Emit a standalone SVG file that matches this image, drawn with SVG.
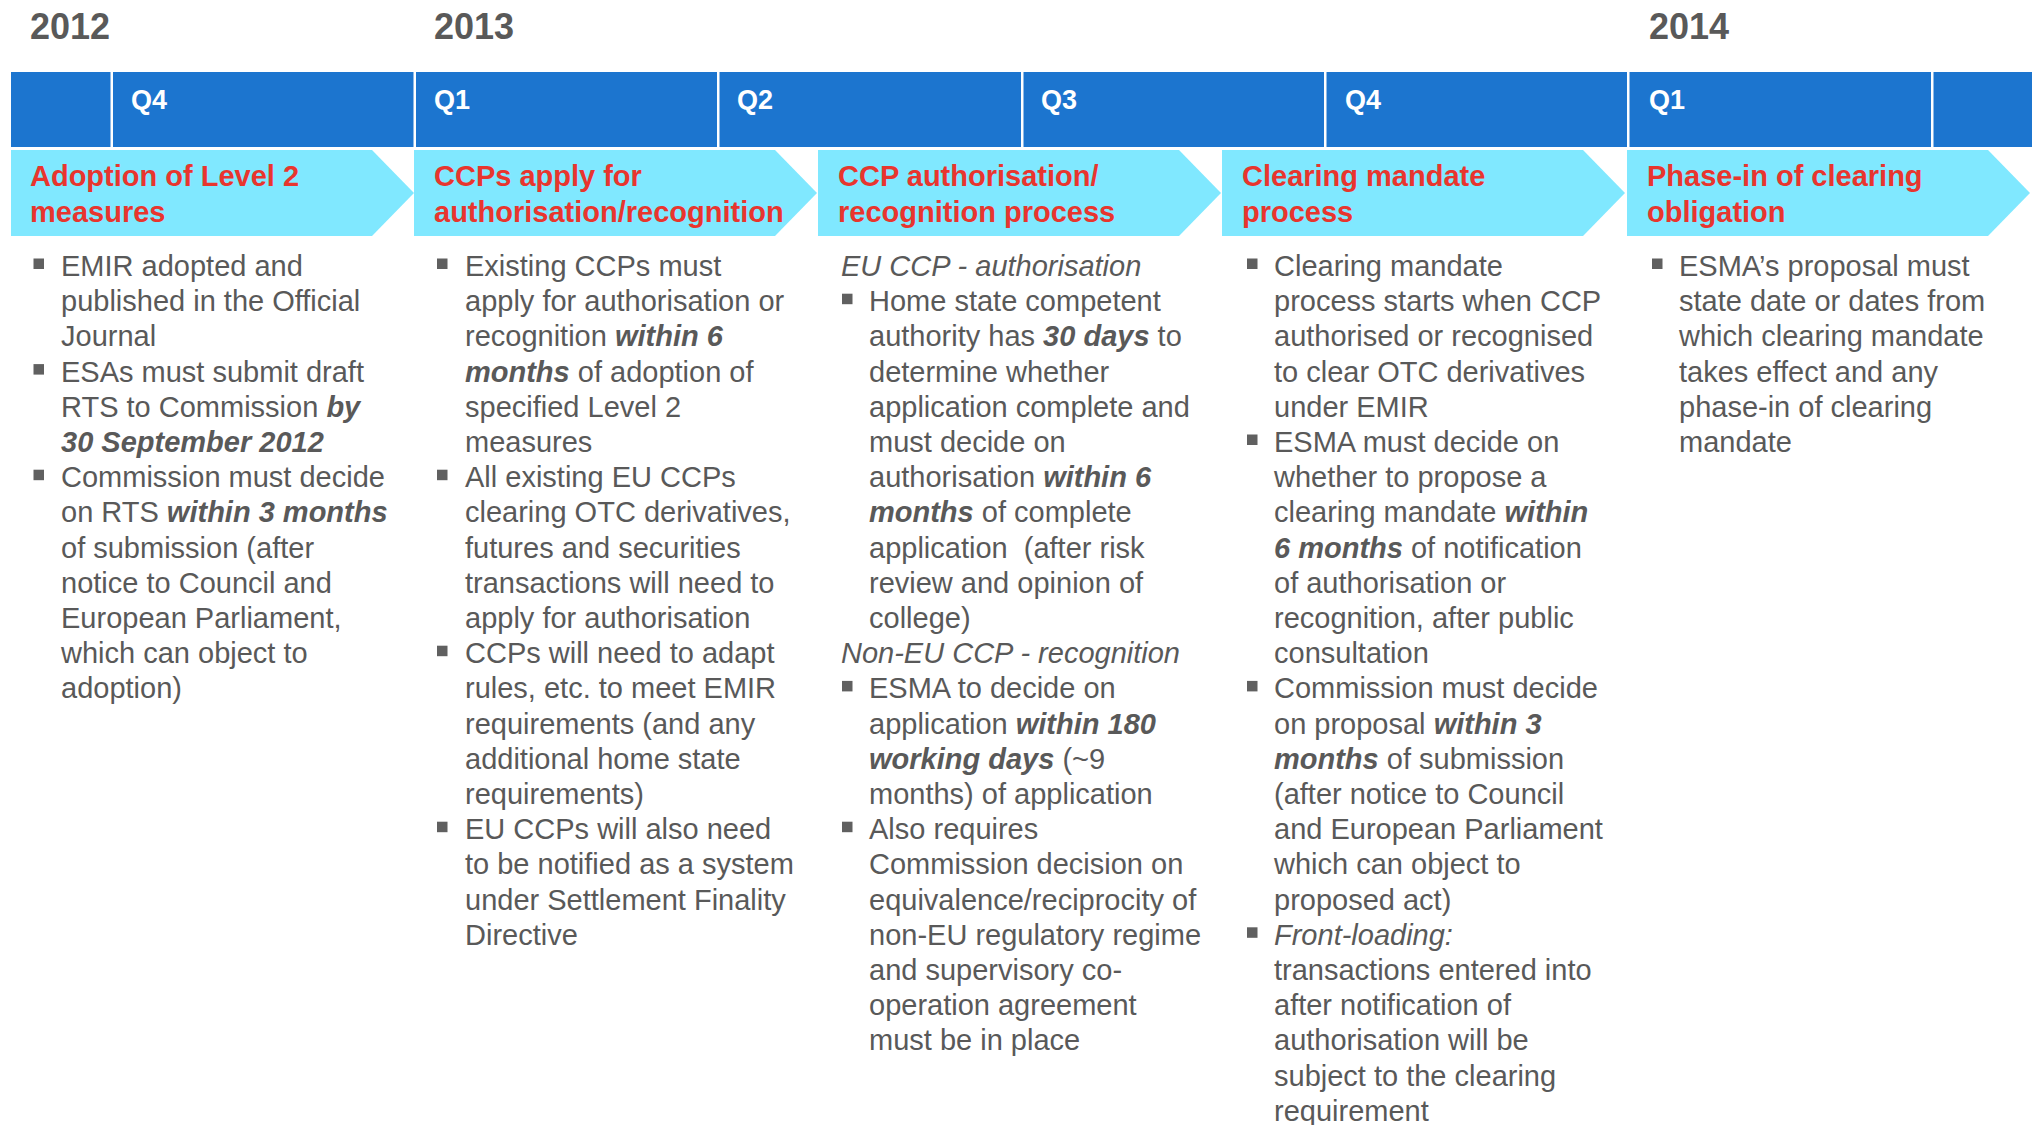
<svg xmlns="http://www.w3.org/2000/svg" xmlns:xlink="http://www.w3.org/1999/xlink" width="2038" height="1125" viewBox="0 0 2038 1125">
  <style>
    text { font-family: "Liberation Sans", Arial, Helvetica, sans-serif; }
    .year { font-size: 36px; font-weight: bold; fill: #595959; }
    .qtr { font-size: 27px; font-weight: bold; fill: #ffffff; }
    .bar { fill: #1c75cf; }
    .div { fill: #ffffff; }
    .chev { fill: #80e8ff; }
    .head { font-size: 29px; font-weight: bold; fill: #e8352e; }
    .body { font-size: 29px; fill: #595959; }
    .bi { font-weight: bold; font-style: italic; }
    .it { font-style: italic; }
    .blt { fill: #606060; }
  </style>
  <defs>
    <rect id="blt" class="blt" width="10.5" height="10.5"/>
    <polygon id="chev" class="chev" points="0,0 361,0 403,43 361,86 0,86"/>
  </defs>

  <rect width="2038" height="1125" fill="#ffffff"/>

  <!-- Years -->
  <g id="years">
    <text class="year" x="30" y="39">2012</text>
    <text class="year" x="434" y="39">2013</text>
    <text class="year" x="1649" y="39">2014</text>
  </g>

  <!-- Quarter bar -->
  <g id="quarters">
    <rect class="bar" x="11" y="72" width="2021" height="75"/>
    <rect class="div" x="110.5" y="72" width="2.5" height="75"/>
    <rect class="div" x="413.5" y="72" width="2.5" height="75"/>
    <rect class="div" x="717" y="72" width="2.5" height="75"/>
    <rect class="div" x="1021" y="72" width="2.5" height="75"/>
    <rect class="div" x="1324" y="72" width="2.5" height="75"/>
    <rect class="div" x="1627" y="72" width="2.5" height="75"/>
    <rect class="div" x="1931" y="72" width="2.5" height="75"/>
    <text class="qtr" x="131" y="109">Q4</text>
    <text class="qtr" x="434" y="109">Q1</text>
    <text class="qtr" x="737" y="109">Q2</text>
    <text class="qtr" x="1041" y="109">Q3</text>
    <text class="qtr" x="1345" y="109">Q4</text>
    <text class="qtr" x="1649" y="109">Q1</text>
  </g>

  <!-- Phase 1 -->
  <g id="phase-level2">
    <use xlink:href="#chev" x="11" y="150"/>
    <text class="head"><tspan x="30" y="186">Adoption of Level 2</tspan><tspan x="30" y="221.5">measures</tspan></text>
    <use xlink:href="#blt" x="33.5" y="258.5"/>
    <use xlink:href="#blt" x="33.5" y="364.1"/>
    <use xlink:href="#blt" x="33.5" y="469.7"/>
    <text class="body">
      <tspan x="61" y="276">EMIR adopted and</tspan>
      <tspan x="61" y="311.2">published in the Official</tspan>
      <tspan x="61" y="346.4">Journal</tspan>
      <tspan x="61" y="381.6">ESAs must submit draft</tspan>
      <tspan x="61" y="416.8">RTS to Commission <tspan class="bi">by</tspan></tspan>
      <tspan x="61" y="452" class="bi">30 September 2012</tspan>
      <tspan x="61" y="487.2">Commission must decide</tspan>
      <tspan x="61" y="522.4">on RTS <tspan class="bi">within 3 months</tspan></tspan>
      <tspan x="61" y="557.6">of submission (after</tspan>
      <tspan x="61" y="592.8">notice to Council and</tspan>
      <tspan x="61" y="628">European Parliament,</tspan>
      <tspan x="61" y="663.2">which can object to</tspan>
      <tspan x="61" y="698.4">adoption)</tspan>
    </text>
  </g>

  <!-- Phase 2 -->
  <g id="phase-apply">
    <use xlink:href="#chev" x="414" y="150"/>
    <text class="head"><tspan x="434" y="186">CCPs apply for</tspan><tspan x="434" y="221.5">authorisation/recognition</tspan></text>
    <use xlink:href="#blt" x="437" y="258.5"/>
    <use xlink:href="#blt" x="437" y="469.7"/>
    <use xlink:href="#blt" x="437" y="645.7"/>
    <use xlink:href="#blt" x="437" y="821.7"/>
    <text class="body">
      <tspan x="465" y="276">Existing CCPs must</tspan>
      <tspan x="465" y="311.2">apply for authorisation or</tspan>
      <tspan x="465" y="346.4">recognition <tspan class="bi">within 6</tspan></tspan>
      <tspan x="465" y="381.6"><tspan class="bi">months</tspan> of adoption of</tspan>
      <tspan x="465" y="416.8">specified Level 2</tspan>
      <tspan x="465" y="452">measures</tspan>
      <tspan x="465" y="487.2">All existing EU CCPs</tspan>
      <tspan x="465" y="522.4">clearing OTC derivatives,</tspan>
      <tspan x="465" y="557.6">futures and securities</tspan>
      <tspan x="465" y="592.8">transactions will need to</tspan>
      <tspan x="465" y="628">apply for authorisation</tspan>
      <tspan x="465" y="663.2">CCPs will need to adapt</tspan>
      <tspan x="465" y="698.4">rules, etc. to meet EMIR</tspan>
      <tspan x="465" y="733.6">requirements (and any</tspan>
      <tspan x="465" y="768.8">additional home state</tspan>
      <tspan x="465" y="804">requirements)</tspan>
      <tspan x="465" y="839.2">EU CCPs will also need</tspan>
      <tspan x="465" y="874.4">to be notified as a system</tspan>
      <tspan x="465" y="909.6">under Settlement Finality</tspan>
      <tspan x="465" y="944.8">Directive</tspan>
    </text>
  </g>

  <!-- Phase 3 -->
  <g id="phase-authorisation">
    <use xlink:href="#chev" x="818" y="150"/>
    <text class="head"><tspan x="838" y="186">CCP authorisation/</tspan><tspan x="838" y="221.5">recognition process</tspan></text>
    <use xlink:href="#blt" x="842" y="293.7"/>
    <use xlink:href="#blt" x="842" y="680.9"/>
    <use xlink:href="#blt" x="842" y="821.7"/>
    <text class="body">
      <tspan x="841" y="276" class="it">EU CCP - authorisation</tspan>
      <tspan x="869" y="311.2">Home state competent</tspan>
      <tspan x="869" y="346.4">authority has <tspan class="bi">30 days</tspan> to</tspan>
      <tspan x="869" y="381.6">determine whether</tspan>
      <tspan x="869" y="416.8">application complete and</tspan>
      <tspan x="869" y="452">must decide on</tspan>
      <tspan x="869" y="487.2">authorisation <tspan class="bi">within 6</tspan></tspan>
      <tspan x="869" y="522.4"><tspan class="bi">months</tspan> of complete</tspan>
      <tspan x="869" y="557.6">application&#160; (after risk</tspan>
      <tspan x="869" y="592.8">review and opinion of</tspan>
      <tspan x="869" y="628">college)</tspan>
      <tspan x="841" y="663.2" class="it">Non-EU CCP - recognition</tspan>
      <tspan x="869" y="698.4">ESMA to decide on</tspan>
      <tspan x="869" y="733.6">application <tspan class="bi">within 180</tspan></tspan>
      <tspan x="869" y="768.8"><tspan class="bi">working days</tspan> (~9</tspan>
      <tspan x="869" y="804">months) of application</tspan>
      <tspan x="869" y="839.2">Also requires</tspan>
      <tspan x="869" y="874.4">Commission decision on</tspan>
      <tspan x="869" y="909.6">equivalence/reciprocity of</tspan>
      <tspan x="869" y="944.8">non-EU regulatory regime</tspan>
      <tspan x="869" y="980">and supervisory co-</tspan>
      <tspan x="869" y="1015.2">operation agreement</tspan>
      <tspan x="869" y="1050.4">must be in place</tspan>
    </text>
  </g>

  <!-- Phase 4 -->
  <g id="phase-mandate">
    <use xlink:href="#chev" x="1222" y="150"/>
    <text class="head"><tspan x="1242" y="186">Clearing mandate</tspan><tspan x="1242" y="221.5">process</tspan></text>
    <use xlink:href="#blt" x="1247" y="258.5"/>
    <use xlink:href="#blt" x="1247" y="434.5"/>
    <use xlink:href="#blt" x="1247" y="680.9"/>
    <use xlink:href="#blt" x="1247" y="927.3"/>
    <text class="body">
      <tspan x="1274" y="276">Clearing mandate</tspan>
      <tspan x="1274" y="311.2">process starts when CCP</tspan>
      <tspan x="1274" y="346.4">authorised or recognised</tspan>
      <tspan x="1274" y="381.6">to clear OTC derivatives</tspan>
      <tspan x="1274" y="416.8">under EMIR</tspan>
      <tspan x="1274" y="452">ESMA must decide on</tspan>
      <tspan x="1274" y="487.2">whether to propose a</tspan>
      <tspan x="1274" y="522.4">clearing mandate <tspan class="bi">within</tspan></tspan>
      <tspan x="1274" y="557.6"><tspan class="bi">6 months</tspan> of notification</tspan>
      <tspan x="1274" y="592.8">of authorisation or</tspan>
      <tspan x="1274" y="628">recognition, after public</tspan>
      <tspan x="1274" y="663.2">consultation</tspan>
      <tspan x="1274" y="698.4">Commission must decide</tspan>
      <tspan x="1274" y="733.6">on proposal <tspan class="bi">within 3</tspan></tspan>
      <tspan x="1274" y="768.8"><tspan class="bi">months</tspan> of submission</tspan>
      <tspan x="1274" y="804">(after notice to Council</tspan>
      <tspan x="1274" y="839.2">and European Parliament</tspan>
      <tspan x="1274" y="874.4">which can object to</tspan>
      <tspan x="1274" y="909.6">proposed act)</tspan>
      <tspan x="1274" y="944.8" class="it">Front-loading:</tspan>
      <tspan x="1274" y="980">transactions entered into</tspan>
      <tspan x="1274" y="1015.2">after notification of</tspan>
      <tspan x="1274" y="1050.4">authorisation will be</tspan>
      <tspan x="1274" y="1085.6">subject to the clearing</tspan>
      <tspan x="1274" y="1120.8">requirement</tspan>
    </text>
  </g>

  <!-- Phase 5 -->
  <g id="phase-obligation">
    <use xlink:href="#chev" x="1627" y="150"/>
    <text class="head"><tspan x="1647" y="186">Phase-in of clearing</tspan><tspan x="1647" y="221.5">obligation</tspan></text>
    <use xlink:href="#blt" x="1652" y="258.5"/>
    <text class="body">
      <tspan x="1679" y="276">ESMA’s proposal must</tspan>
      <tspan x="1679" y="311.2">state date or dates from</tspan>
      <tspan x="1679" y="346.4">which clearing mandate</tspan>
      <tspan x="1679" y="381.6">takes effect and any</tspan>
      <tspan x="1679" y="416.8">phase-in of clearing</tspan>
      <tspan x="1679" y="452">mandate</tspan>
    </text>
  </g>

  <!-- Timeline has no connecting lines -->
  <g id="connectors"/>
</svg>
